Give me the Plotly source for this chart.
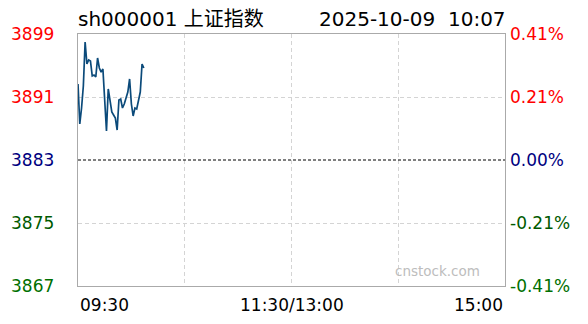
import plotly.graph_objects as go

# ---- data ----
title_left = "sh000001 上证指数"
title_right = "2025-10-09  10:07"
prev_close = 3883
y_min, y_max = 3867, 3899
total_minutes = 240
left_tick_vals = [3899, 3891, 3883, 3875, 3867]
left_tick_labels = ["3899", "3891", "3883", "3875", "3867"]
right_tick_labels = ["0.41%", "0.21%", "0.00%", "-0.21%", "-0.41%"]
tick_colors = ["#ff0000", "#ff0000", "#000080", "#005a00", "#007000"]
x_tick_vals = [0, 120, 240]
x_tick_labels = ["09:30", "11:30/13:00", "15:00"]
grid_x = [60, 120, 180]
grid_y = [3891, 3875]
prices = [
    3892.65, 3887.57, 3889.60, 3892.40, 3897.98, 3895.19, 3895.70, 3895.57,
    3893.67, 3893.79, 3893.54, 3895.95, 3894.68, 3894.17, 3894.56, 3890.62,
    3886.68, 3892.02, 3890.24, 3889.10, 3888.71, 3888.33, 3886.81, 3890.62,
    3890.75, 3889.60, 3890.11, 3891.00, 3891.63, 3893.29, 3890.11, 3888.59,
    3889.60, 3889.48, 3890.62, 3891.63, 3895.19, 3894.68,
]
watermark = "cnstock.com"

FONT = "DejaVu Sans"
minutes = list(range(len(prices)))

fig = go.Figure()
fig.add_trace(go.Scatter(
    x=minutes, y=prices, mode="lines",
    line=dict(color="#0b4a7a", width=1.7),
    hoverinfo="skip", showlegend=False,
))

fig.add_shape(type="line", xref="paper", x0=0, x1=1, yref="y",
              y0=prev_close, y1=prev_close,
              line=dict(color="#000000", width=1, dash="3px,2px"))

ann = []
for v, lt, rt, c in zip(left_tick_vals, left_tick_labels, right_tick_labels, tick_colors):
    ann.append(dict(xref="paper", x=0, yref="y", y=v, text=lt, showarrow=False,
                    xanchor="right", yanchor="middle", xshift=-22,
                    font=dict(family=FONT, size=17, color=c)))
    ann.append(dict(xref="paper", x=1, yref="y", y=v, text=rt, showarrow=False,
                    xanchor="left", yanchor="middle", xshift=3,
                    font=dict(family=FONT, size=17, color=c)))
anchors = ["left", "center", "right"]
for xv, lab, a in zip(x_tick_vals, x_tick_labels, anchors):
    ann.append(dict(xref="x", x=xv, yref="paper", y=0, text=lab, showarrow=False,
                    xanchor=a, yanchor="middle", yshift=-19,
                    font=dict(family=FONT, size=17, color="#000000")))
ann.append(dict(xref="paper", x=0, yref="paper", y=1, text=title_left, showarrow=False,
                xanchor="left", yanchor="middle", yshift=15, xshift=-2,
                font=dict(family=FONT + ", Noto Sans CJK SC", size=20, color="#000000")))
ann.append(dict(xref="paper", x=1, yref="paper", y=1, text=title_right, showarrow=False,
                xanchor="right", yanchor="middle", yshift=15, xshift=3,
                font=dict(family=FONT, size=20, color="#000000")))
ann.append(dict(xref="paper", x=0.945, yref="paper", y=0.0, text=watermark, showarrow=False,
                xanchor="right", yanchor="middle", yshift=15,
                font=dict(family=FONT, size=13.5, color="#bdbdbd")))

fig.update_layout(
    width=588, height=324,
    margin=dict(l=78, r=83, t=34, b=38),
    paper_bgcolor="#ffffff", plot_bgcolor="#ffffff",
    annotations=ann,
    xaxis=dict(range=[0, total_minutes], tickvals=grid_x, showticklabels=False,
               showgrid=True, gridcolor="#d4d4d4", griddash="4px,3px", gridwidth=1,
               showline=True, linecolor="#aaaaaa", linewidth=1, mirror=True,
               zeroline=False, ticks="", fixedrange=True),
    yaxis=dict(range=[y_min, y_max], tickvals=grid_y, showticklabels=False,
               showgrid=True, gridcolor="#d4d4d4", griddash="4px,3px", gridwidth=1,
               showline=True, linecolor="#aaaaaa", linewidth=1, mirror=True,
               zeroline=False, ticks="", fixedrange=True),
)

fig.write_html("out.html")
